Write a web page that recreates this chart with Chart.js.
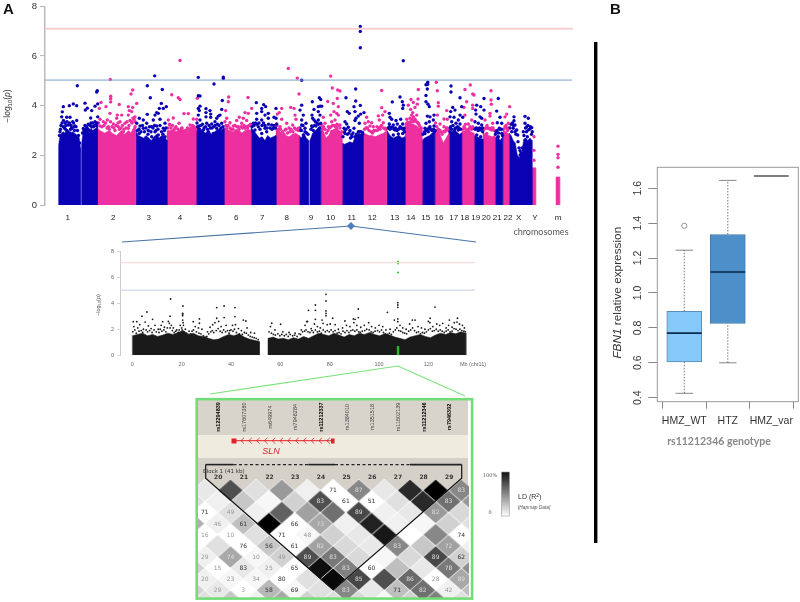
<!DOCTYPE html>
<html>
<head>
<meta charset="utf-8">
<title>Manhattan, LD and expression</title>
<script src="https://cdn.jsdelivr.net/npm/chart.js@4/dist/chart.umd.js"></script>
<style>
  html, body { margin: 0; padding: 0; background: #fff; }
  #page { position: relative; width: 800px; height: 602px; overflow: hidden; font-family: "Liberation Sans", sans-serif; }
  canvas, svg, .band { position: absolute; }
  svg { left: 0; top: 0; }
</style>
</head>
<body>
<div id="page">
  <div class="band" style="left:197px;top:400px;width:271px;height:35px;background:#d8d4cc"></div>
  <div class="band" style="left:197px;top:435px;width:271px;height:23px;background:#efecdf"></div>
  <div class="band" style="left:197px;top:458px;width:271px;height:34px;background:#d5d1c9"></div>
  <canvas id="manhattan" width="580" height="225" style="left:0;top:0"></canvas>
  <canvas id="region" width="400" height="135" style="left:100px;top:240px;filter:blur(0.4px)"></canvas>
  <canvas id="ld" width="271" height="119" style="left:197.5px;top:479px;filter:blur(0.3px)"></canvas>
  <canvas id="box" width="200" height="295" style="left:600px;top:160px"></canvas>
  <svg id="over" width="800" height="602" xmlns="http://www.w3.org/2000/svg">
    <text x="3" y="14" font-size="15" font-weight="bold" fill="#111">A</text>
    <text x="610" y="14" font-size="15" font-weight="bold" fill="#111">B</text>
    <text transform="translate(10,106) rotate(-90)" text-anchor="middle" font-size="8.5" fill="#333">&#8722;log<tspan font-size="6" dy="1.5">10</tspan><tspan dy="-1.5">(</tspan><tspan font-style="italic">p</tspan>)</text>
    <text x="541" y="235" text-anchor="middle" font-family="Lato" font-size="9" fill="#555">chromosomes</text>
    <polyline points="122,242 351,226 476,242" fill="none" stroke="#4a76a8" stroke-width="1.1"/>
    <polygon points="351,222 355,226 351,230 347,226" fill="#4f81bd"/>
    <text transform="translate(100,305) rotate(-90)" text-anchor="middle" font-size="5.5" fill="#555">&#8722;log<tspan font-size="4" dy="1">10</tspan><tspan dy="-1">(</tspan><tspan font-style="italic">p</tspan>)</text>
    <text x="473" y="365.5" text-anchor="middle" font-size="5.5" fill="#666">Mb (chr11)</text>
    <polyline points="210,394 398,366 465,396" fill="none" stroke="#7ee37e" stroke-width="1.2"/>
    <rect x="196.7" y="399.2" width="275.4" height="199.4" fill="none" stroke="#72dc78" stroke-width="2.6"/>
    <g id="ldMarks"></g>
    <text x="203" y="472.5" font-family="DejaVu Sans" font-size="5.5" fill="#333" id="blockName">Block 1 (41 kb)</text>
    <line x1="233.5" y1="440.7" x2="333" y2="440.7" stroke="#e0202a" stroke-width="1"/>
    <rect x="231.5" y="438.5" width="5" height="5" fill="#e0202a"/>
    <rect x="331" y="438.5" width="3.5" height="5" fill="#e0202a"/>
    <text x="271" y="454" text-anchor="middle" font-size="9" font-style="italic" fill="#d8252c">SLN</text>
    <defs><linearGradient id="ldGrad" x1="0" y1="0" x2="0" y2="1"><stop offset="0" stop-color="#111"/><stop offset="1" stop-color="#fff"/></linearGradient></defs>
    <rect x="501.5" y="472" width="8" height="44" fill="url(#ldGrad)" stroke="#999" stroke-width="0.6"/>
    <text x="490" y="477" text-anchor="middle" font-family="DejaVu Serif" font-size="5" fill="#555">100%</text>
    <text x="490" y="514" text-anchor="middle" font-family="DejaVu Serif" font-size="5" fill="#555">0</text>
    <text x="518" y="499" font-size="7" fill="#333">LD (R<tspan font-size="5" dy="-2">2</tspan><tspan dy="2">)</tspan></text>
    <text x="518" y="509" font-size="4.8" font-style="italic" fill="#555">[Hapmap Data]</text>
    <rect x="594" y="42" width="3.4" height="501" fill="#000"/>
    <text transform="translate(620.5,292.7) rotate(-90)" text-anchor="middle" font-size="11.8" fill="#333"><tspan font-style="italic">FBN1</tspan> relative expression</text>
    <text x="719" y="445" text-anchor="middle" font-family="Lato" font-weight="bold" font-size="10.5" fill="#888">rs11212346 genotype</text>
  </svg>
</div>

<script>
// ---- genome-wide panel ----
const chrNames = ["1","2","3","4","5","6","7","8","9","10","11","12","13","14","15","16","17","18","19","20","21","22","X","Y","m"];
const chrTickPos = [67.7,113.3,148.7,180,209.7,236.3,262.3,286.7,311,330.7,351.7,372.3,394.7,411,425.7,439,453.7,464.7,475.7,486.3,497.3,508,518.7,535,558];
const thresholdHigh = 7.1;
const thresholdLow = 5.03;

const massStart = [58.5,81.4,97.5,135.7,167,196,224,251,276,299,310,320.7,342,363.3,387,405,422,434.7,449,461.7,474,483,495,503,509,532,556];
const massEnd = [80.6,97.5,135.7,167,196,224,251,276,299,308.8,320.7,342,363.3,386.7,405,422,434.7,449,461.7,474,483,495,502.7,509,532,535.7,559.7];
const massIsBlue = [1,1,0,1,0,1,0,1,0,1,1,0,1,0,1,0,1,0,1,0,1,0,1,0,1,0,0];
const massTops = [
  [2.4,2.8,2.9,2.95,2.9,3.0,2.95,2.85,2.9,2.95,2.9,2.85,2.8,2.75,2.3],
  [2.4,2.9,3.0,2.95,3.05,2.9,3.1,3.0,3.05,3.1,3.15],
  [3.1,3.0,2.95,2.9,2.95,3.0,2.9,2.85,2.8,2.9,3.0,2.85,2.9,3.0,2.9,3.1,3.2],
  [3.0,2.8,2.75,2.7,2.8,2.7,2.6,2.75,2.85,2.7,2.8,2.75,2.6],
  [2.9,3.0,3.05,2.95,3.0,3.1,3.0,2.95,3.05,3.1,3.15],
  [3.2,3.1,3.0,2.9,3.0,2.85,2.95,3.05,3.0,3.1],
  [3.1,3.05,3.0,2.95,3.05,3.0,2.9,3.0,3.05,3.0],
  [3.1,3.0,2.85,2.7,2.75,2.6,2.8,2.7,2.75,2.8],
  [3.1,3.0,2.85,2.8,2.75,2.85,2.9,2.8],
  [2.8,2.7,2.9,2.7,2.6],
  [2.6,2.9,3.0,3.1,3.0],
  [3.1,3.0,2.7,2.8,3.0,3.05,3.1,3.0,2.9],
  [2.5,2.45,2.5,2.55,2.5,2.75,2.9,2.85,2.95],
  [2.9,2.85,2.8,2.8,2.75,2.8,2.85,2.9,3.0],
  [3.0,2.8,2.7,2.75,2.8,2.7,2.75],
  [3.3,3.4,3.3,3.25,3.2,3.1,3.15],
  [2.6,2.7,2.75,2.8,2.9,3.0],
  [2.9,3.1,2.8,2.5,2.7,2.9],
  [2.9,2.95,3.0,2.95,2.85,2.9],
  [2.95,3.0,3.05,2.95,2.9],
  [2.8,2.75,2.7,2.65],
  [2.9,2.85,2.8,2.75,2.8],
  [2.7,2.8,2.6,2.75],
  [3.0,2.95,2.85],
  [2.9,2.8,2.6,2.5,2.0,1.9,2.1,2.6,2.7,2.6,2.7,2.6],
  [1.5,1.5],
  [1.13,1.13]
];

const bluePeaks = [
  [77.3,4.8],[73.3,4.07],[69.3,4.0],[63.3,3.96],[76.7,4.0],[62.3,3.75],[61.7,3.55],[66.7,3.53],[70,3.53],[76.7,3.4],[72.7,3.35],[65,3.3],[68.3,3.22],[75,3.18],[71.7,3.08],[61,3.2],[66.7,3.0],[63.3,3.15],[70,2.9],
  [85,4.1],[85.3,3.82],[91.7,3.8],[87.3,3.9],[97.3,4.6],[96.7,4.55],[97.7,4.07],[95,3.98],[97.7,3.55],[90.7,3.5],[85,3.2],[88.3,3.25],[95,3.35],[91.7,3.15],[83.3,3.08],[96.7,3.18],[86,3.0],[89.3,3.0],
  [154.7,5.2],[147.3,4.8],[162.3,4.65],[150.3,4.32],[161.3,4.09],[166.3,3.96],[159.3,3.89],[163.3,3.89],[156.7,3.72],[158.3,3.69],[147.3,3.65],[155,3.62],[139.3,3.49],[143.3,3.42],[153.3,3.42],[160,3.45],[165,3.29],[136.7,3.29],[146.7,3.29],[140,3.18],[151.7,3.15],[156.7,3.18],[143.3,3.09],[163.3,3.09],[148.3,3.0],[155,2.95],[165,2.75],[139.3,2.88],[151.7,2.75],[158.3,2.82],
  [198.3,5.14],[214,4.87],[223.3,5.15],[223.3,5.09],[198.3,4.4],[200,4.39],[222.3,4.21],[200,3.98],[198.3,3.89],[199.3,3.8],[206,3.88],[210,3.8],[221.7,3.85],[206,3.72],[210.7,3.66],[198.3,3.62],[218.3,3.58],[220,3.62],[216.7,3.49],[206,3.55],[210.7,3.53],[200,3.42],[215,3.35],[206.7,3.29],[211.7,3.26],[221.7,3.29],[199.3,3.18],[203.3,3.02],[216.7,3.09],[208.3,2.95],[220,3.02],[213.3,2.88],
  [256.3,4.12],[263.7,4.04],[265.7,3.96],[261.7,3.89],[276,3.89],[256.7,3.69],[268.3,3.69],[261.7,3.76],[265,3.62],[274,3.53],[268.3,3.49],[256.7,3.45],[276,3.49],[261.7,3.42],[253.3,3.29],[271.7,3.22],[276.7,3.26],[258.3,3.15],[265,3.09],[255,3.02],[273.3,3.09],[266.7,2.95],[261.7,2.88],[253,2.95],
  [301.7,5.02],[301.7,4.02],[300,3.82],[303.3,3.62],[301.7,3.42],[306,3.29],[301.7,3.22],[305,3.09],[300.7,3.0],[303.3,2.82],
  [312.3,4.16],[319.3,4.32],[320.7,4.25],[314,3.85],[320,3.98],[318.3,3.96],[321.7,3.98],[312,3.62],[312.7,3.49],[318.3,3.76],[320,3.62],[314,3.42],[318.3,3.42],[311.7,3.18],[320.7,3.29],[316,3.18],[313.3,3.0],[319.3,3.09],
  [360.3,7.19],[360.3,6.99],[360.3,6.33],[355.7,4.67],[346,4.32],[355.7,4.19],[360.3,4.01],[354,3.96],[347.3,3.76],[349.3,3.69],[355,3.76],[364,3.72],[360.7,3.66],[358.3,3.58],[356,3.49],[355,3.4],[345,3.35],[346.7,3.26],[359.3,3.29],[348.3,3.13],[344,3.09],[354,3.09],[350,3.0],[345,2.88],[351.7,2.82],[358.3,2.95],[362.7,2.91],
  [403.3,5.81],[400,4.35],[392.3,4.15],[402.3,4.16],[403.3,4.02],[402.7,3.89],[389.3,3.69],[390,3.53],[391.7,3.45],[396,3.4],[400.7,3.45],[389.3,3.26],[393.3,3.22],[397.3,3.26],[402.7,3.26],[390,3.05],[395,3.02],[400,3.09],[404,3.09],[393.3,2.82],[398.3,2.86],[402.7,2.88],
  [427.7,4.94],[426,4.84],[427.7,4.86],[427.3,4.67],[426,4.41],[426,4.16],[428,4.06],[429.3,3.96],[427.3,3.58],[430,3.55],[434,3.62],[426,3.29],[429.3,3.35],[433.3,3.42],[425,3.09],[430,3.15],[434,3.18],[428.3,2.95],[435,3.0],[425,2.88],
  [451,4.79],[451,4.55],[460,4.32],[452.7,3.93],[461.7,3.96],[450.7,3.76],[455,3.82],[460,3.62],[450,3.55],[454,3.53],[462.7,3.53],[458.3,3.42],[451.7,3.35],[456,3.29],[460,3.26],[450.7,3.15],[455,3.09],[458.3,3.02],[450,2.95],
  [476.7,4.02],[480.7,3.96],[475.7,3.82],[484,3.82],[484,4.29],[476,3.66],[480,3.55],[481.7,3.49],[475,3.35],[478.3,3.29],[481.7,3.22],[476,3.09],[480,3.02],[482.7,2.95],[476.7,2.82],[480.7,2.75],
  [498.3,4.29],[496.7,3.78],[500,3.53],[497.3,3.31],[501.7,3.29],[499.3,3.09],[496,2.95],[501.7,2.88],[498.3,2.75],
  [514,3.55],[514,3.39],[515,3.22],[525,3.57],[528.3,3.49],[513.3,3.09],[516.7,3.02],[525,3.29],[526.7,3.15],[531.7,3.11],[511.7,2.95],[517.7,2.82],[523.3,2.95],[528.3,3.02],[532.3,2.95],[520,2.19],[520,2.01],[525,2.62],[525,2.35],[527.3,2.75]
];
const blueFringe = [
  [59.5,2.8],[60.5,3.05],[62,3.3],[63.5,3.4],[64.5,3.1],[66,3.2],[67,3.35],[68,2.95],[69.5,3.3],[71,3.2],[72,3.1],[73.5,3.3],[74.5,3.0],[76,3.15],[77.5,3.0],[78.5,2.8],[79.5,2.5],[60,2.95],[65.5,3.05],[70.5,3.05],[74,3.15],
  [82.5,2.9],[84,3.0],[85.5,3.05],[87,3.1],[88,3.05],[90,3.2],[92.5,3.3],[93.5,3.15],[94.5,3.2],[96,3.25],[97,3.3],[86.5,3.15],[91,3.3],
  [137.5,3.0],[139,3.05],[141,2.95],[142.5,3.2],[144.5,2.95],[146,3.1],[148,2.85],[149.5,3.15],[151,2.95],[153,3.1],[154.5,3.2],[156,3.0],[158,3.05],[160,3.2],[161.5,2.95],[163,2.85],[164.5,3.0],[166,3.1],
  [197,3.3],[198,3.15],[199.5,3.05],[201,3.2],[202.5,3.25],[204,3.1],[205.5,3.15],[207.5,3.05],[209,3.2],[210.5,3.1],[212,3.1],[213.5,3.15],[215,3.2],[217.5,3.25],[219,3.2],[221,3.1],[223,3.15],
  [252,3.15],[254,3.2],[255.5,3.3],[257,3.25],[259,3.3],[260,3.05],[262,3.2],[263.5,3.3],[265,3.2],[267,3.1],[268.5,3.25],[270,3.1],[272,3.05],[274,3.2],[275.5,3.1],
  [300,3.1],[301.5,3.0],[303,3.2],[305,2.95],[306.5,2.9],[308,2.85],[311,3.05],[312.5,3.15],[314.5,3.2],[315.5,3.35],[317,3.3],[318.5,3.25],[320,3.1],
  [343,2.75],[344.5,2.95],[346,3.05],[347.5,2.85],[349,2.9],[350.5,2.7],[352,2.75],[353,2.9],[355,2.75],[356.5,2.85],[358,2.8],[359.5,2.95],[361,2.95],[362.5,2.85],
  [388,3.1],[389.5,3.15],[391,3.1],[392.5,3.15],[394,3.05],[395.5,3.1],[397,3.0],[398.5,3.05],[400,3.15],[401.5,3.1],[403,3.05],[404.5,2.95],
  [423,2.85],[424.5,2.95],[426,3.0],[427.5,3.05],[429,3.1],[430.5,3.05],[432,3.0],[433.5,3.05],[434.5,2.95],
  [450,3.1],[451.5,3.05],[453,3.2],[454.5,3.0],[456,3.1],[457.5,3.15],[459,3.1],[460.5,3.05],
  [475,3.05],[476.5,3.1],[478,3.0],[479.5,3.1],[481,3.05],[482.5,3.1],
  [495.5,2.85],[497,3.0],[498.5,2.9],[500,3.05],[501.5,3.05],[502.5,2.8],
  [510,3.1],[511,3.25],[512.5,3.3],[513.5,3.2],[515,2.95],[516,2.85],[518,2.55],[519,2.3],[521,2.1],[522,2.3],[524,2.8],[525.5,3.1],[526.5,2.95],[528,3.2],[529.5,3.05],[530.5,3.15],[531.5,2.85]
];
const pinkPeaks = [
  [110.3,5.05],[132.7,4.63],[131,4.47],[110.7,4.38],[110.7,4.28],[110.7,4.15],[101,4.13],[119.3,4.05],[136.7,4.09],[106,3.96],[99.3,3.89],[128.3,3.96],[132.7,3.93],[129.3,3.8],[131.7,3.76],[110,3.69],[117.3,3.62],[121.7,3.62],[128.3,3.62],[135,3.55],[116.7,3.49],[107.3,3.42],[103.3,3.35],[120,3.35],[131.7,3.35],[125,3.29],[113.3,3.26],[100,3.18],[118.3,3.15],[128.3,3.09],[109.3,3.05],[115,3.0],[123.3,2.95],[135,3.15],
  [180,5.82],[171.7,4.44],[178.3,4.32],[180,4.25],[184,3.68],[188.3,3.68],[173.3,3.5],[168.3,3.42],[179,3.29],[193.3,3.46],[196.7,3.45],[197.3,4.3],[170,3.22],[175,3.09],[190,3.22],[181.7,3.09],[168.3,2.95],[186.7,3.02],[193.3,3.09],[176.7,2.88],[191.7,2.82],
  [228.7,4.35],[248,4.33],[228.3,4.16],[225.7,3.8],[251.7,3.89],[245,3.72],[248.3,3.69],[226.7,3.49],[239.3,3.53],[243.3,3.49],[236.7,3.4],[246.7,3.4],[230,3.31],[241.7,3.29],[233.3,3.18],[248.3,3.18],[226.7,3.09],[238.3,3.15],[245,3.09],
  [288.3,5.5],[297.3,5.11],[299,4.47],[290.7,3.93],[281.7,3.89],[279.3,3.72],[294,3.89],[295,3.62],[277.3,3.66],[281.7,3.45],[296,3.45],[286.7,3.29],[292.7,3.22],[280,3.15],[298.3,3.09],[285,3.02],[290,2.95],
  [330.7,5.19],[332.3,4.71],[337.7,4.63],[340,4.59],[327.7,4.17],[337.3,4.29],[333.3,4.09],[338.3,3.96],[334,3.76],[330.7,3.62],[336.7,3.69],[323.3,3.53],[331.7,3.35],[338.3,3.62],[325,3.29],[335,3.42],[340,3.22],[328.3,3.15],[336.7,3.09],[323.3,3.09],[331.7,2.95],[341.7,2.95],
  [381.7,4.61],[381.7,3.92],[385,3.76],[378.3,3.59],[382.7,3.62],[366.7,3.53],[379.3,3.42],[368.3,3.35],[365,3.29],[371.7,3.31],[383.3,3.31],[370,3.18],[380,3.13],[373.3,3.15],[377.3,3.0],[366.7,3.09],[385,3.09],[373.3,2.95],
  [418.3,4.65],[411,4.25],[418,4.27],[408.3,4.02],[417.3,4.06],[413.3,4.13],[410.7,3.85],[415,3.93],[412.7,3.72],[406.7,3.45],[411.7,3.62],[416.7,3.62],[410,3.49],[415,3.45],[418.3,3.29],[408.3,3.22],[413.3,3.35],
  [436.3,4.94],[437.3,4.6],[438.3,4.12],[438.3,3.98],[437.3,3.62],[446.7,3.8],[444,3.46],[447.3,3.45],[440,3.26],[444,3.15],[436.7,3.15],[446.7,3.09],[440,3.0],[445,2.95],[438.3,2.75],[440.7,2.48],[442.7,2.35],
  [470.3,4.83],[465,4.65],[472.7,4.47],[474,4.43],[466.7,4.16],[464,3.93],[472.7,4.02],[472.7,3.89],[465,3.62],[471.7,3.42],[468.3,3.26],[472.7,3.15],[465,3.09],
  [491,4.6],[491,4.23],[491.3,4.06],[490,3.69],[490,3.58],[485,3.42],[492.7,3.29],[487.3,3.09],[491.7,3.02],[486.7,2.88],
  [509.7,3.96],[506.7,3.66],[505,3.55],[508.3,3.29],[506.7,3.09],
  [534,2.75],[534,2.2],[534,1.8],
  [558,2.37],[558,2.04],[558,1.9],[558,1.52]
];
const pinkFringe = [
  [98.5,3.3],[100,3.45],[102,3.15],[104,3.2],[105.5,3.3],[107,3.1],[108.5,3.15],[110.5,3.35],[112,3.15],[114,3.1],[116,3.2],[118,3.3],[119.5,3.05],[121,3.1],[122.5,3.2],[124,3.05],[126,3.1],[127,3.35],[129,3.2],[130,3.4],[132,3.3],[133,3.5],[134,3.45],[135,3.35],
  [168,3.1],[169.5,3.25],[171,3.1],[172.5,3.2],[174,3.0],[176,3.15],[178,3.05],[180,2.95],[182,3.1],[184,2.95],[185.5,3.0],[187.5,3.1],[189,3.05],[191,3.1],[192.5,3.2],[194,3.15],[195.5,3.05],
  [225,3.35],[226,3.2],[228,3.2],[230,3.1],[231.5,3.05],[233,3.05],[235,3.2],[237,3.15],[239,3.05],[241,3.15],[242.5,3.1],[244,3.2],[246,3.15],[247.5,3.1],[249.5,3.2],[250.5,3.25],
  [277,3.2],[278.5,3.05],[280.5,3.05],[282.5,2.95],[284,2.85],[286,3.05],[287.5,2.9],[289,3.1],[291,3.05],[293,2.95],[294.5,3.1],[296,3.05],[298,3.0],
  [322,3.2],[323.5,3.15],[325,3.05],[326.5,2.9],[328,3.0],[329.5,3.1],[331,3.15],[332.5,3.2],[334,3.2],[335.5,3.15],[337,3.25],[338.5,3.2],[340,3.1],
  [364.5,3.05],[366,3.1],[367.5,3.1],[369,3.0],[371,2.95],[372.5,2.9],[374,3.0],[375.5,3.0],[377,3.15],[378.5,3.1],[380,3.05],[381.5,3.2],[383.5,3.1],[385.5,3.05],
  [406,3.1],[407.5,3.15],[409,3.3],[410.5,3.35],[412,3.45],[413.5,3.55],[415,3.4],[416.5,3.35],[418,3.3],[419.5,3.2],[421,3.1],
  [435.5,3.3],[437,3.0],[438.5,3.05],[440.5,2.95],[442,2.85],[443.5,2.95],[445.5,3.0],[447,3.1],[448.5,3.0],
  [462.5,3.05],[464,3.15],[465.5,3.25],[467,3.0],[468.5,3.05],[470,3.15],[471.5,3.05],[473,3.1],
  [484,3.05],[485.5,3.1],[487,3.2],[488.5,3.1],[490,3.05],[491.5,3.1],[493,3.1],[494.5,3.0],
  [503.5,3.05],[505,3.15],[506,3.2],[507.5,3.0],[508.5,3.1]
];

// ---- chr11 panel ----
const regionTicks = [0,20,40,60,80,100,120];
const regionStart = [0,55];
const regionEnd = [51.5,135.2];
const regionTops = [
  [1.5,1.6,1.7,1.5,1.6,1.45,1.55,1.7,1.6,1.75,1.9,1.6,1.7,1.5,1.45,1.3,1.2,1.25,1.45,1.6,1.5,1.65,1.4,1.25,1.15,1.05],
  [1.3,1.4,1.25,1.3,1.2,1.35,1.25,1.45,1.3,1.5,1.7,1.6,1.5,1.7,1.55,1.4,1.6,1.5,1.7,1.6,1.75,1.6,1.5,1.65,1.55,1.4,1.3,1.2,1.4,1.5,1.6,1.45,1.35,1.55,1.7,1.6,1.75,1.65,1.8,1.7]
];
const regionPeaks = [
  [15.5,4.32],[78.5,4.68],[78.5,4.17],[20.5,3.78],[5.9,3.32],[3.9,3.0],[8.2,2.76],[15.3,3.0],[20.4,3.22],[20.4,3.15],[20.4,3.04],[20.4,2.7],[34.2,3.66],[37.2,3.78],[41.6,3.66],[34.2,2.84],[37.2,2.89],[41.6,2.97],
  [71.4,3.45],[74.2,3.86],[74.2,3.45],[74.2,2.76],[78.5,3.4],[78.5,3.22],[78.5,3.04],[81.2,2.84],[76.9,2.7],[91.6,3.55],[91.6,2.89],[103.4,3.3],[107.6,4.04],[107.6,3.86],[107.6,3.68],[107.6,2.79],[107.6,2.58],[122.7,3.7],[120.7,2.84],[131.8,2.84],[128.5,2.7],
  [89.6,2.79],[90.3,2.76],[86.2,2.63],[70.7,2.58],[56.5,2.46],[60.1,2.38],[27.2,2.79],[27.2,2.46],[24.7,2.58],[0.4,2.58],[1.8,2.58],[45,2.7],[46,2.63],[12.3,2.58],
  [0.6,2.2],[2.2,2.1],[3,2.35],[4.5,2.0],[5.2,2.55],[6.5,2.25],[7.6,2.05],[9.2,2.3],[10.5,2.0],[11.7,2.3],[13,2.15],[14.6,2.6],[15,2.45],[15.8,2.3],[16.6,2.1],[18,1.95],[19.4,2.3],[20.6,2.5],[20.7,2.3],[21.5,2.0],[23,1.85],[25.5,2.2],[26.8,2.1],[28.2,2.0],[30.5,1.8],[31.5,2.15],[32.6,2.35],[33.5,2.5],[35,2.6],[36,2.2],[38,2.3],[39.5,1.9],[40.6,2.3],[41.8,2.35],[43,2.05],[44.2,1.9],[46.5,2.1],[48,1.75],[49.5,1.7],
  [56,2.2],[57.8,1.95],[61,1.8],[63.5,1.75],[66,1.7],[68.5,1.95],[70,2.3],[71,2.6],[72.5,2.05],[73.8,2.4],[75,2.2],[76.2,2.1],[77.3,2.45],[79,2.35],[80.2,2.4],[82.2,2.35],[83.5,2.0],[85.2,2.1],[86.8,2.3],[88.2,2.2],[89.8,2.5],[91,2.3],[92.6,2.15],[94,2.3],[95.8,2.5],[97,2.2],[98.5,2.1],[100,2.3],[101.5,2.2],[102.8,1.95],[104.5,2.0],[106.2,2.7],[108.5,2.3],[109.6,2.1],[111,2.0],[112.4,2.4],[113.5,2.7],[114.6,2.7],[115.8,2.2],[117.2,2.1],[118.6,2.0],[120,2.6],[120.6,2.5],[121.8,2.2],[123.4,2.4],[124.6,2.3],[125.8,2.45],[127.2,2.1],[128.2,2.3],[129.6,2.15],[130.5,2.5],[131.6,2.55],[132.6,2.4],[133.8,2.3],[134.6,2.1]
];
const regionFringe = [
  [0.2,1.8],[1,1.95],[1.6,1.7],[2.7,1.85],[3.6,1.9],[4.2,1.75],[5.6,1.95],[6.2,1.8],[7,1.9],[8,1.75],[8.8,1.95],[9.7,1.8],[10.8,1.75],[11.3,2.0],[12,1.85],[12.8,1.95],[13.6,1.8],[14.2,2.1],[15.3,2.1],[16.2,1.9],[17,1.75],[17.6,1.85],[18.6,1.75],[19,1.95],[20,2.1],[20.2,1.95],[21,1.8],[22,1.7],[22.6,1.6],[23.6,1.65],[24.2,1.85],[24.8,1.95],[26,1.8],[27,1.7],[27.8,1.65],[28.8,1.5],[29.6,1.4],[30.2,1.45],[31,1.65],[31.8,1.8],[32.4,1.9],[33,1.75],[34,1.9],[34.8,2.05],[35.6,1.85],[36.4,1.75],[37,1.95],[37.8,1.8],[38.6,1.9],[39.2,1.7],[40,1.95],[40.8,1.85],[41.4,2.0],[42.2,1.75],[43.4,1.65],[44.6,1.6],[45.4,1.75],[46.2,1.7],[47,1.55],[47.8,1.45],[48.6,1.4],[49.4,1.35],[50.2,1.3],[51,1.2],
  [55.4,1.8],[56.4,1.7],[57.2,1.6],[58,1.55],[59,1.65],[59.8,1.5],[60.6,1.6],[61.6,1.5],[62.4,1.6],[63.2,1.45],[64,1.6],[65,1.5],[65.8,1.55],[66.8,1.45],[67.6,1.65],[68.2,1.6],[69,1.8],[69.8,1.85],[70.4,1.95],[71.2,1.8],[72,1.75],[72.8,1.9],[73.4,1.75],[74.2,1.95],[75,1.8],[75.8,1.85],[76.6,1.7],[77.4,1.95],[78.2,1.8],[79,1.9],[79.8,1.8],[80.6,1.95],[81.4,1.8],[82.2,1.9],[83,1.7],[83.8,1.75],[84.6,1.65],[85.4,1.85],[86.2,1.75],[87,1.9],[87.8,1.75],[88.6,1.9],[89.4,1.95],[90.2,1.85],[91,1.95],[91.8,1.8],[92.4,1.75],[93.2,1.85],[94.2,1.9],[95,2.0],[96,1.95],[96.8,1.8],[97.6,1.75],[98.4,1.85],[99.4,1.9],[100.2,1.8],[101,1.95],[101.8,1.75],[102.6,1.65],[103.4,1.6],[104.2,1.7],[105,1.6],[105.8,1.8],[106.6,1.95],[107.2,2.1],[108,1.9],[108.8,1.85],[109.6,1.75],[110.4,1.7],[111.2,1.65],[112,1.85],[112.8,1.95],[113.6,2.1],[114.4,1.9],[115.2,1.75],[116,1.8],[116.8,1.65],[117.6,1.75],[118.4,1.7],[119.2,1.8],[120,1.95],[120.8,2.05],[121.6,1.85],[122.4,1.9],[123.2,2.0],[124,1.85],[124.8,1.95],[125.6,1.85],[126.4,1.75],[127.2,1.85],[128,1.95],[128.8,1.8],[129.6,1.85],[130.4,2.05],[131.2,2.0],[132,1.9],[132.8,2.0],[133.6,1.9],[134.4,1.85],[135,1.8]
];
const regionHits = [[107.7,7.2],[107.7,7.05],[107.7,6.35]];
const regionHitBar = [[107.7,0],[107.7,0.72]];

// ---- LD panel ----
const ldMarkers = ["rs12294839","rs17607380","rs649974","rs7948284","rs11212337","rs1384010","rs1351518","rs11602139","rs11212346","rs7946302"];
const ldMarkerBold = [1,0,0,0,1,0,0,0,1,1];
const ldNumbers = ["20","21","22","23","24","25","26","27","28","29"];
const ldShades = [
  [9,69,12,40,6,0,47,9,84,100,47],
  [12,6,22,3,18,69,0,0,12,84,56,40],
  [0,12,6,62,37,56,72,6,9,40,15],
  [31,6,25,100,0,34,6,87,6,3,18,12],
  [0,0,12,0,3,18,9,91,0,47,0],
  [0,12,0,22,0,37,15,9,47,22,37,6],
  [6,34,3,18,69,53,15,3,15,72,18],
  [18,0,9,6,0,94,50,0,25,9,53,44],
  [6,3,3,0,12,97,72,69,59,0,34],
  [18,9,0,28,3,12,47,9,25,56,6,25],
  [12,22,6,34,18,12,15,3,18,50,12]
];
const ldLabels = [
  ["","","","","","71","87","","","","83"],
  ["","","","","","83","61","51","","","83",""],
  ["71","49","","","","","89","","","82",""],
  ["","46","61","","66","73","","","","","",""],
  ["16","10","","71","48","","","","","","74"],
  ["","","76","56","61","82","","","83","","72",""],
  ["29","74","10","49","89","83","","","","89","62"],
  ["","15","83","25","65","","83","60","","","78",""],
  ["20","23","34","80","","","85","","86","28","89"],
  ["","29","3","58","69","","83","","71","82","42",""],
  ["","","","","","","","","","",""]
];

// ---- expression boxplot ----
const genotypes = ["HMZ_WT","HTZ","HMZ_var"];
const boxTicks = [0.4,0.6,0.8,1.0,1.2,1.4,1.6];
const boxQ1 = [0.605,0.825];
const boxMedian = [0.77,1.12];
const boxQ3 = [0.895,1.335];
const whiskerLow = [0.425,0.6];
const whiskerHigh = [1.245,1.645];
const outliers = [[1,1.385]];
const singleVar = 1.67;


const toPts = function (list) {
  return list.map(function (p) { return { x: p[0], y: p[1] }; });
}

const fixWidth = function (w) {
  return function (s) { s.width = w; s.paddingTop = 0; s.paddingBottom = 0; };
}

const fixHeight = function (h) {
  return function (s) { s.height = h; s.paddingLeft = 0; s.paddingRight = 0; };
}

const baseOptions = {
  animation: false,
  responsive: false,
  events: [],
  plugins: { legend: { display: false }, tooltip: { enabled: false } }
};

const massDataset = function (start, end, tops, color, order) {
  const n = tops.length;
  const pts = [{ x: start, y: 0 }];
  tops.forEach(function (v, i) {
    pts.push({ x: start + (end - start) * i / (n - 1), y: v });
  });
  pts.push({ x: end, y: 0 });
  return { type: "scatter", data: pts, showLine: true, fill: "origin", backgroundColor: color, borderColor: color, borderWidth: 0.5, pointRadius: 0, tension: 0, order: order };
}

const dots = function (list, color, radius, order) {
  return { type: "scatter", data: toPts(list), backgroundColor: color, borderColor: color, borderWidth: 0, pointRadius: radius, order: order };
}

const hLine = function (x0, x1, y, color, width) {
  return { type: "scatter", data: [{ x: x0, y: y }, { x: x1, y: y }], showLine: true, fill: false, borderColor: color, borderWidth: width, pointRadius: 0, order: 0 };
}


/**
 * genome-wide manhattan
 */

const BLUE = "#0a00b4";
const PINK = "#ee2fa0";
const genomeSets = [];
massTops.forEach(function (tops, i) {
  genomeSets.push(massDataset(massStart[i], massEnd[i], tops, massIsBlue[i] ? BLUE : PINK, 3));
});
genomeSets.push(dots(bluePeaks, BLUE, 1.7, 2));
genomeSets.push(dots(pinkPeaks, PINK, 1.7, 2));
genomeSets.push(dots(blueFringe, BLUE, 1.7, 2));
genomeSets.push(dots(pinkFringe, PINK, 1.7, 2));
genomeSets.push(hLine(45, 573, thresholdHigh, "#f8cfcf", 2));
genomeSets.push(hLine(45, 572, thresholdLow, "#7a9fd0", 1));

new Chart(document.getElementById("manhattan"), {
  type: "scatter",
  data: { datasets: genomeSets },
  options: Object.assign({}, baseOptions, {
    layout: { autoPadding: false, padding: { top: 6.3 } },
    scales: {
      x: {
        type: "linear", min: 45, max: 580, afterFit: fixHeight(20),
        afterBuildTicks: function (s) { s.ticks = chrTickPos.map(function (v) { return { value: v }; }); },
        grid: { display: false, drawTicks: false }, border: { display: false },
        ticks: {
          autoSkip: false, maxRotation: 0, minRotation: 0, padding: 8, color: "#222",
          font: { family: "Liberation Sans", size: 8 },
          callback: function (v, i) { return chrNames[i]; }
        }
      },
      y: {
        type: "linear", min: 0, max: 8, afterFit: fixWidth(45),
        grid: { drawOnChartArea: false, tickColor: "#bbb", tickLength: 5, tickWidth: 1.2 },
        border: { color: "#bbb", width: 1.5 },
        ticks: { stepSize: 2, padding: 3, color: "#333", font: { family: "Liberation Sans", size: 9.5 } }
      }
    }
  })
});


/**
 * chr11 zoom
 */

const regionSets = [];
regionTops.forEach(function (tops, i) {
  regionSets.push(massDataset(regionStart[i], regionEnd[i], tops, "#1a1a1a", 4));
});
regionSets.push(dots(regionPeaks, "#1a1a1a", 0.9, 3));
regionSets.push(dots(regionFringe, "#1a1a1a", 0.9, 3));
regionSets.push(dots(regionHits, "#35c435", 1, 1));
regionSets.push({ type: "scatter", data: toPts(regionHitBar), showLine: true, fill: false, borderColor: "#2fb52f", borderWidth: 2.4, pointRadius: 0, order: 1 });
regionSets.push(hLine(-5, 138.9, 7.1, "#f6d5d8", 1));
regionSets.push(hLine(-5, 138.9, 5, "#c9cde6", 1));

new Chart(document.getElementById("region"), {
  type: "scatter",
  data: { datasets: regionSets },
  options: Object.assign({}, baseOptions, {
    layout: { autoPadding: false, padding: { top: 11, right: 25 } },
    scales: {
      x: {
        type: "linear", min: -5, max: 138.9, afterFit: fixHeight(19.7),
        afterBuildTicks: function (s) { s.ticks = regionTicks.map(function (v) { return { value: v }; }); },
        grid: { display: false, drawTicks: false }, border: { display: false },
        ticks: { maxRotation: 0, padding: 6, color: "#666", font: { family: "Liberation Sans", size: 5.5 } }
      },
      y: {
        type: "linear", min: 0, max: 8, afterFit: fixWidth(20),
        grid: { drawOnChartArea: false, tickColor: "#ccc", tickLength: 3, tickWidth: 0.8 },
        border: { color: "#ccc", width: 1 },
        ticks: { stepSize: 2, padding: 3, color: "#666", font: { family: "Liberation Sans", size: 5.5 } }
      }
    }
  })
});


/**
 * LD diamonds
 */

const CELL_W = 25.66;
const CELL_H = 22.2;
const diamondCache = {};

const diamondFor = function (shade) {
  if (diamondCache[shade]) {
    return diamondCache[shade];
  }
  const c = document.createElement("canvas");
  c.width = Math.ceil(CELL_W);
  c.height = Math.ceil(CELL_H);
  const g = c.getContext("2d");
  const level = Math.round(255 * (1 - shade / 100));
  g.beginPath();
  g.moveTo(c.width / 2, 0);
  g.lineTo(c.width, c.height / 2);
  g.lineTo(c.width / 2, c.height);
  g.lineTo(0, c.height / 2);
  g.closePath();
  g.fillStyle = "rgb(" + level + "," + level + "," + level + ")";
  g.fill();
  g.strokeStyle = "#fff";
  g.lineWidth = 0.7;
  g.stroke();
  diamondCache[shade] = c;
  return c;
}

const ldPoints = [];
ldShades.forEach(function (row, r) {
  const first = r % 2 === 0 ? 0 : -1;
  row.forEach(function (s, i) {
    ldPoints.push({ x: first + i * 2, y: r, shade: s, label: ldLabels[r][i] });
  });
});

const ldTextPlugin = {
  id: "ldText",
  afterDatasetsDraw: function (chart) {
    const g = chart.ctx;
    g.save();
    g.font = "6px 'DejaVu Sans'";
    g.textAlign = "center";
    g.textBaseline = "middle";
    ldPoints.forEach(function (p) {
      if (!p.label) {
        return;
      }
      const value = parseInt(p.label, 10);
      g.fillStyle = value < 50 ? "#999" : (p.shade > 30 ? "#ddd" : "#333");
      g.fillText(p.label, chart.scales.x.getPixelForValue(p.x), chart.scales.y.getPixelForValue(p.y));
    });
    g.restore();
  }
};

new Chart(document.getElementById("ld"), {
  type: "scatter",
  data: {
    datasets: [{
      data: ldPoints,
      clip: false,
      pointRadius: 13,
      pointStyle: function (ctx) {
        return ctx.raw ? diamondFor(ctx.raw.shade) : "circle";
      }
    }]
  },
  options: Object.assign({}, baseOptions, {
    layout: { autoPadding: false },
    scales: {
      x: { type: "linear", display: false, min: -0.53, max: 20.6 },
      y: { type: "linear", display: false, reverse: true, min: -1.05, max: 9.67 }
    }
  }),
  plugins: [ldTextPlugin]
});


/**
 * expression boxplot
 */

const boxFrame = {
  id: "boxFrame",
  afterDraw: function (chart) {
    const a = chart.chartArea;
    chart.ctx.save();
    chart.ctx.strokeStyle = "#999";
    chart.ctx.lineWidth = 1;
    chart.ctx.strokeRect(a.left, a.top, a.right - a.left, a.bottom - a.top);
    chart.ctx.restore();
  }
};

const segment = function (x0, y0, x1, y1, color, width, dash) {
  return { type: "scatter", data: [{ x: x0, y: y0 }, { x: x1, y: y1 }], showLine: true, fill: false, borderColor: color, borderWidth: width, borderDash: dash || [], pointRadius: 0, order: 1 };
}

const boxSets = [{
  type: "bar",
  data: boxQ1.map(function (v, i) { return { x: i + 1, y: [v, boxQ3[i]] }; }),
  backgroundColor: ["#85c8fa", "#4d8fc9"],
  borderColor: ["#5b8db5", "#3f78ad"],
  borderWidth: 1,
  borderSkipped: false,
  barThickness: 35,
  grouped: false,
  order: 2
}];
boxQ1.forEach(function (q, i) {
  const x = i + 1;
  boxSets.push(segment(x, whiskerLow[i], x, q, "#555", 0.8, [1.5, 1.5]));
  boxSets.push(segment(x, boxQ3[i], x, whiskerHigh[i], "#555", 0.8, [1.5, 1.5]));
  boxSets.push(segment(x - 0.2, whiskerLow[i], x + 0.2, whiskerLow[i], "#666", 0.8));
  boxSets.push(segment(x - 0.2, whiskerHigh[i], x + 0.2, whiskerHigh[i], "#666", 0.8));
  boxSets.push(segment(x - 0.4, boxMedian[i], x + 0.4, boxMedian[i], "#0b2a4a", 1.6));
});
boxSets.push(segment(2.6, singleVar, 3.4, singleVar, "#555", 1.6));
boxSets.push({ type: "scatter", data: toPts(outliers), backgroundColor: "#fff", borderColor: "#777", borderWidth: 0.8, pointRadius: 2.6, order: 1 });

new Chart(document.getElementById("box"), {
  type: "scatter",
  data: { datasets: boxSets },
  options: Object.assign({}, baseOptions, {
    layout: { autoPadding: false, padding: { top: 7.3, right: 1.7 } },
    scales: {
      x: {
        type: "linear", min: 0.38, max: 3.62, offset: false, afterFit: fixHeight(53.3),
        afterBuildTicks: function (s) { s.ticks = [1, 2, 3].map(function (v) { return { value: v }; }); },
        grid: { drawOnChartArea: false, tickColor: "#888", tickLength: 7 },
        border: { display: false },
        ticks: {
          autoSkip: false, maxRotation: 0, padding: 6, color: "#333",
          font: { family: "Liberation Sans", size: 10.5 },
          callback: function (v) { return genotypes[v - 1]; }
        }
      },
      y: {
        type: "linear", min: 0.377, max: 1.72, afterFit: fixWidth(57.3),
        afterBuildTicks: function (s) { s.ticks = boxTicks.map(function (v) { return { value: v }; }); },
        grid: { drawOnChartArea: false, tickColor: "#888", tickLength: 9 },
        border: { display: false },
        ticks: {
          minRotation: 90, maxRotation: 90, crossAlign: "center", padding: 3, color: "#333",
          font: { family: "Liberation Sans", size: 10.5 },
          callback: function (v) { return v.toFixed(1); }
        }
      }
    }
  }),
  plugins: [boxFrame]
});


/**
 * svg marks of the LD panel
 */

const ns = "http://www.w3.org/2000/svg";
const svgOver = document.getElementById("over");
const ldMarks = document.getElementById("ldMarks");

const addSvg = function (parent, tag, attrs, text) {
  const el = document.createElementNS(ns, tag);
  Object.keys(attrs).forEach(function (k) { el.setAttribute(k, attrs[k]); });
  if (text) {
    el.textContent = text;
  }
  parent.appendChild(el);
}

ldMarkers.forEach(function (name, i) {
  const x = 218.3 + i * 25.66;
  addSvg(ldMarks, "text", {
    transform: "translate(" + (x + 2) + ",417) rotate(-90)",
    "text-anchor": "middle",
    "font-size": "5.5",
    "font-weight": ldMarkerBold[i] ? "bold" : "normal",
    fill: ldMarkerBold[i] ? "#000" : "#444"
  }, name);
  addSvg(ldMarks, "text", {
    x: x, y: 479, "text-anchor": "middle", "font-family": "DejaVu Sans", "font-size": "6", "font-weight": "bold", fill: "#333"
  }, ldNumbers[i]);
});

addSvg(ldMarks, "polyline", { points: "205.7,464.6 205.7,478.3 333.3,590 461.7,478.3 461.7,464.6", fill: "none", stroke: "#111", "stroke-width": "1.2" });
[[205.7, 233.5], [308.3, 335], [410, 461.7]].forEach(function (s) {
  addSvg(ldMarks, "line", { x1: s[0], y1: 464.6, x2: s[1], y2: 464.6, stroke: "#222", "stroke-width": "1.6" });
});
[[233.5, 308.3], [335, 410]].forEach(function (s) {
  addSvg(ldMarks, "line", { x1: s[0], y1: 464.6, x2: s[1], y2: 464.6, stroke: "#222", "stroke-width": "1.2", "stroke-dasharray": "3 2.5" });
});
for (let i = 0; i < 12; i++) {
  const x = 241 + i * 7.8;
  addSvg(svgOver, "polyline", { points: (x + 3) + ",437.8 " + x + ",440.7 " + (x + 3) + ",443.6", fill: "none", stroke: "#e0202a", "stroke-width": "0.8" });
}
</script>
</body>
</html>
